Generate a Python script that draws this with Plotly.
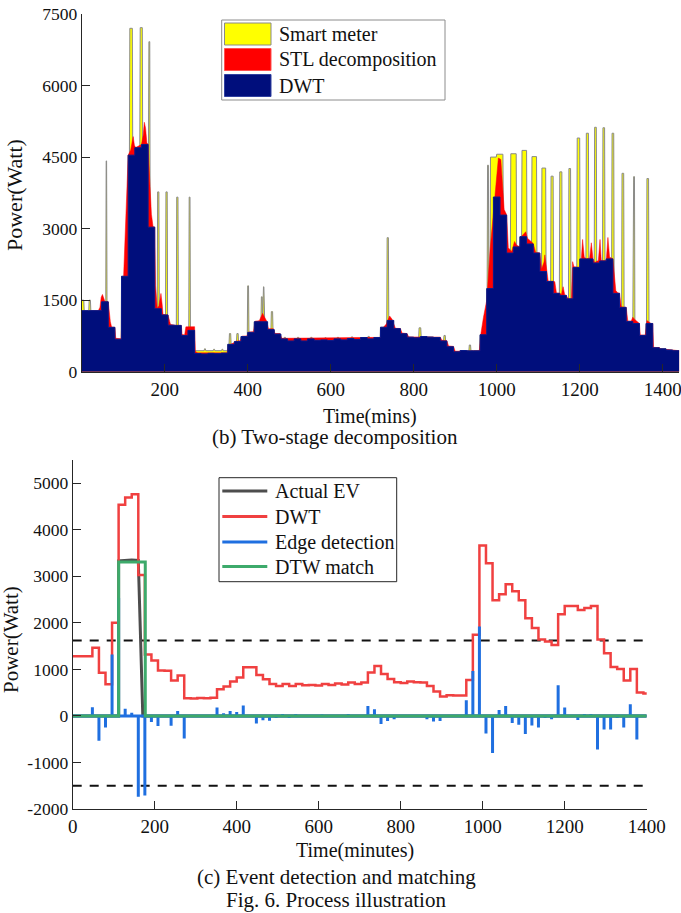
import numpy as np
import plotly.graph_objects as go

W, H = 681, 913
FONT = "Liberation Serif"

# ---------------- data ----------------
BLOCK = 16  # DWT block length (minutes)
DWT = [1280, 1280, 1280, 1465, 930, 680, 2000, 4540, 4695, 4765,
       3030, 1320, 1190, 975, 970, 760, 867, 380, 372, 385,
       378, 390, 573, 631, 738, 824, 1047, 1047, 882, 789,
       688, 645, 688, 645, 688, 659, 667, 652, 688, 667,
       695, 674, 717, 688, 717, 932, 1075, 903, 796, 724,
       710, 738, 724, 717, 645, 523, 416, 444, 437, 437,
       774, 1742, 3663, 3283, 2487, 2616, 2831, 2678, 2487, 2100,
       1892, 1642, 1599, 1527, 2186, 2365, 2365, 2279, 2322, 2365,
       1642, 1348, 1054, 1011, 760, 1011, 502, 480, 455, 440]

# smart-meter excursions above the DWT level: start, end (minutes), level (W)
SM_START = [0, 18, 59, 116, 141, 161, 183, 203, 229, 259, 274, 296, 318, 338,
            356, 374, 400, 433, 437, 457, 488, 520, 552, 586, 616, 650, 690,
            736, 813, 873, 934, 978, 985, 1000, 1034, 1061, 1085, 1109, 1131,
            1152, 1174, 1194, 1216, 1236, 1256, 1278, 1302, 1329, 1362]
SM_END = [6, 22, 61, 123, 147, 165, 187, 207, 233, 262, 352, 299, 321, 341,
          360, 378, 403, 436, 440, 461, 492, 524, 556, 590, 620, 654, 694,
          740, 818, 877, 938, 981, 1000, 1016, 1048, 1073, 1097, 1119, 1137,
          1158, 1179, 1201, 1222, 1241, 1261, 1283, 1307, 1333, 1367]
SM_PEAK = [1500, 1500, 4420, 7200, 7214, 6920, 3770, 3770, 3660, 3660, 440, 480,
           470, 470, 800, 800, 1800, 1570, 1780, 1260, 720, 720, 720, 710, 720,
           730, 740, 2810, 920, 760, 560, 4330, 4500, 4560, 4570, 4640, 4510,
           4270, 4100, 4190, 4260, 4900, 5000, 5125, 5115, 5000, 4160, 4090, 4050]

STL_T = [0, 40, 44, 47, 50, 53, 56, 64, 66, 69, 72, 80, 82, 95, 101, 112, 118, 122,
         124, 127, 130, 144, 148, 151, 154, 157, 160, 164, 168, 172, 176, 178, 182,
         186, 189, 191, 194, 196, 208, 210, 214, 224, 240, 242, 248, 251, 272, 274,
         280, 350, 354, 366, 370, 382, 386, 398, 402, 414, 418, 428, 432, 436, 440,
         446, 450, 462, 466, 478, 482, 720, 724, 734, 742, 748, 752, 756, 768, 772,
         784, 788, 864, 868, 880, 884, 896, 900, 958, 962, 968, 976, 984, 992, 998,
         1004, 1010, 1014, 1018, 1024, 1028, 1036, 1040, 1043, 1048, 1056, 1060,
         1066, 1070, 1074, 1088, 1094, 1104, 1108, 1114, 1116, 1120, 1124, 1136,
         1140, 1144, 1152, 1156, 1160, 1164, 1168, 1172, 1180, 1183, 1186, 1200,
         1204, 1207, 1211, 1216, 1224, 1228, 1232, 1236, 1245, 1249, 1252, 1264,
         1268, 1272, 1280, 1287, 1292, 1296, 1300, 1312, 1316, 1324, 1328, 1332,
         1344, 1346, 1358, 1362, 1372, 1376, 1378, 1392, 1395, 1440]
STL_P = [1270, 1280, 1350, 1560, 1620, 1560, 1470, 1465, 1250, 1050, 935, 930, 700,
         690, 2000, 4540, 4650, 4900, 4930, 4750, 4700, 4765, 4950, 5230, 5100,
         4800, 4765, 4000, 3300, 3040, 3035, 1800, 1330, 1380, 1600, 1640, 1400,
         1200, 1190, 1100, 990, 975, 970, 780, 770, 940, 944, 420, 395, 395, 560,
         600, 640, 650, 745, 750, 830, 840, 1060, 1070, 1150, 1224, 1150, 1060,
         900, 900, 800, 800, 700, 720, 900, 1000, 1168, 1100, 1000, 910, 905, 810,
         800, 730, 725, 660, 650, 540, 530, 430, 440, 800, 1135, 1500, 2550, 3300,
         4000, 4480, 4450, 3900, 3400, 3290, 2600, 2520, 2620, 2730, 2650, 2620,
         2840, 2900, 2935, 2800, 2690, 2500, 2490, 2150, 2300, 2450, 2100, 1900,
         1895, 1887, 1650, 1645, 1620, 1782, 1610, 1600, 1530, 1530, 2307, 2200,
         2190, 2370, 2773, 2400, 2370, 2380, 2703, 2370, 2290, 2330, 2773, 2330,
         2330, 2815, 2400, 2370, 1700, 1650, 1650, 1360, 1350, 1060, 1060, 1142,
         1100, 1011, 770, 770, 1072, 1011, 1010, 510, 505, 480, 440]

# edge detection: signed step at each DWT block boundary (W)
EDGE = [0, 0, 185, -535, -250, 1320, 2540, 155, 70, -1735,
        -1710, -130, -215, -5, -210, 107, -487, -8, 13, -7,
        12, 183, 58, 107, 86, 223, 0, -165, -93, -101,
        -43, 43, -43, 43, -29, 8, -15, 36, -21, 28,
        -21, 43, -29, 29, 215, 143, -172, -107, -72, -14,
        28, -14, -7, -72, -122, -107, 28, -7, 0, 337,
        968, 1921, -380, -796, 129, 215, -153, -191, -387, -208,
        -250, -43, -72, 659, 179, 0, -86, 43, 43, -723,
        -294, -294, -43, -251, 251, -509, -22]

EV_T = [0, 112, 112, 128, 144, 160, 171, 1400]
EV_P = [0, 0, 3330, 3345, 3350, 3340, 0, 0]
DTW_T = [0, 112, 112, 177, 177, 1400]
DTW_P = [0, 0, 3310, 3310, 0, 0]
THRESH_UP, THRESH_LOW = 1620, -1500

TOP_XTICKS = [200, 400, 600, 800, 1000, 1200, 1400]
TOP_YTICKS = [0, 1500, 3000, 4500, 6000, 7500]
BOT_XTICKS = [0, 200, 400, 600, 800, 1000, 1200, 1400]
BOT_YTICKS = [-2000, -1000, 0, 1000, 2000, 3000, 4000, 5000]

# ---------------- derived series ----------------
dwt_t = list(range(0, len(DWT) * BLOCK + 1, BLOCK))
dwt_p = DWT + [DWT[-1]]
minutes = np.arange(len(DWT) * BLOCK)
sm = np.repeat(np.array(DWT, dtype=float), BLOCK)
for s, e, p in zip(SM_START, SM_END, SM_PEAK):
    sm[s:e] = np.maximum(sm[s:e], p)

edge_t = list(range(BLOCK, 1400, BLOCK))
ex, ey = [0], [0]
for t, d in zip(edge_t, EDGE):
    ex += [t, t, t]
    ey += [0, d, 0]
ex.append(1400)
ey.append(0)


def P(px, py):
    return px / W, 1 - py / H


fig = go.Figure()

# ---- top panel ----
fig.add_trace(go.Scatter(x=minutes, y=sm, mode="lines", fill="tozeroy",
                         fillcolor="#FFFF00", line=dict(color="#8a8a8a", width=1),
                         name="Smart meter", showlegend=False, xaxis="x", yaxis="y"))
fig.add_trace(go.Scatter(x=STL_T, y=STL_P, mode="lines", fill="tozeroy",
                         fillcolor="#FF0000", line=dict(color="#FF0000", width=0.5),
                         name="STL decomposition", showlegend=False, xaxis="x", yaxis="y"))
fig.add_trace(go.Scatter(x=dwt_t, y=dwt_p, mode="lines", line_shape="hv", fill="tozeroy",
                         fillcolor="#000E7C", line=dict(color="#0a1a8c", width=1),
                         name="DWT", showlegend=False, xaxis="x", yaxis="y"))

# ---- bottom panel ----
for th in (THRESH_UP, THRESH_LOW):
    fig.add_trace(go.Scatter(x=[0, 1400], y=[th, th], mode="lines",
                             line=dict(color="#111111", width=2, dash="9px,8px"),
                             showlegend=False, xaxis="x2", yaxis="y2"))
fig.add_trace(go.Scatter(x=EV_T, y=EV_P, mode="lines",
                         line=dict(color="#4d4d4d", width=3),
                         name="Actual EV", showlegend=False, xaxis="x2", yaxis="y2"))
fig.add_trace(go.Scatter(x=dwt_t, y=dwt_p, mode="lines", line_shape="hv",
                         line=dict(color="#F04040", width=2.5),
                         name="DWT", showlegend=False, xaxis="x2", yaxis="y2"))
fig.add_trace(go.Scatter(x=ex, y=ey, mode="lines",
                         line=dict(color="#1f6fe0", width=3),
                         name="Edge detection", showlegend=False, xaxis="x2", yaxis="y2"))
fig.add_trace(go.Scatter(x=DTW_T, y=DTW_P, mode="lines",
                         line=dict(color="#3daa6b", width=3),
                         name="DTW match", showlegend=False, xaxis="x2", yaxis="y2"))

axis_common = dict(showline=True, linecolor="#262626", linewidth=1, ticks="inside",
                   ticklen=8, tickcolor="#262626", tickwidth=1, showgrid=False,
                   zeroline=False, mirror=False, automargin=False,
                   ticklabeloverflow="allow")
xfont = dict(family=FONT, size=19, color="#111111")
yfont = dict(family=FONT, size=17.5, color="#111111")

fig.update_layout(
    width=W, height=H, margin=dict(l=0, r=0, t=0, b=0, pad=0, autoexpand=False),
    paper_bgcolor="white", plot_bgcolor="white", showlegend=False,
    font=dict(family=FONT, color="#111111"),
    xaxis=dict(domain=[81.7 / W, 679.3 / W], range=[0, 1440], anchor="y",
               tickvals=TOP_XTICKS, ticktext=[str(v) for v in TOP_XTICKS],
               tickfont=xfont, **axis_common),
    yaxis=dict(domain=[1 - 371.7 / H, 1 - 14 / H], range=[0, 7500], anchor="x",
               tickvals=TOP_YTICKS, ticktext=[str(v) for v in TOP_YTICKS],
               tickfont=yfont, **axis_common),
    xaxis2=dict(domain=[72.7 / W, 646.7 / W], range=[0, 1400], anchor="y2",
                tickvals=BOT_XTICKS, ticktext=[str(v) for v in BOT_XTICKS],
                tickfont=xfont, **axis_common),
    yaxis2=dict(domain=[1 - 809 / H, 1 - 460 / H], range=[-2000, 5500], anchor="x2",
                tickvals=BOT_YTICKS, ticktext=[str(v) for v in BOT_YTICKS],
                tickfont=yfont, **axis_common),
)

# ---- texts ----
def note(text, px, py, size, angle=0, xanchor="center"):
    x, y = P(px, py)
    fig.add_annotation(text=text, x=x, y=y, xref="paper", yref="paper",
                       xanchor=xanchor, yanchor="middle", showarrow=False,
                       textangle=angle, font=dict(family=FONT, size=size, color="#111111"))

note("Power(Watt)", 15, 195, 22, angle=-90)
note("Time(mins)", 370, 416, 20)
note("(b) Two-stage decomposition", 335, 437, 21)
note("Power(Watt)", 11, 640, 21, angle=-90)
note("Time(minutes)", 355, 850, 20)
note("(c) Event detection and matching", 336, 877, 21)
note("Fig. 6. Process illustration", 335.5, 900, 21)

# ---- legends ----
shapes = []
def rect(x0, y0, x1, y1, fill, line, lw=1):
    a, b = P(x0, y1)
    c, d = P(x1, y0)
    shapes.append(dict(type="rect", xref="paper", yref="paper", x0=a, y0=b, x1=c, y1=d,
                       fillcolor=fill, line=dict(color=line, width=lw)))

def hline(x0, x1, y, color, lw):
    a, b = P(x0, y)
    c, _ = P(x1, y)
    shapes.append(dict(type="line", xref="paper", yref="paper", x0=a, y0=b, x1=c, y1=b,
                       line=dict(color=color, width=lw)))

rect(221.7, 20, 445, 100, "white", "#8c8c8c")
top_items = [("Smart meter", "#FFFF00", "#8a8a8a", 34), ("STL decomposition", "#FF0000", "#ff5050", 59.5),
             ("DWT", "#000E7C", "#3040a0", 85.5)]
for label, fc, lc, cy in top_items:
    rect(224.5, cy - 11, 271, cy + 11, fc, lc)
    note(label, 277, cy, 20, xanchor="left")

rect(219, 477.7, 396.7, 581.7, "white", "#262626")
bot_items = [("Actual EV", "#4d4d4d", 491), ("DWT", "#F04040", 516.5),
             ("Edge detection", "#1f6fe0", 542), ("DTW match", "#3daa6b", 566.5)]
for label, col, cy in bot_items:
    hline(222.3, 267.3, cy, col, 3)
    note(label, 273, cy, 20, xanchor="left")

fig.update_layout(shapes=shapes)
fig.write_html("out.html", config={"displayModeBar": False},
               post_script="document.body.style.margin='0';document.body.style.overflow='hidden';")
